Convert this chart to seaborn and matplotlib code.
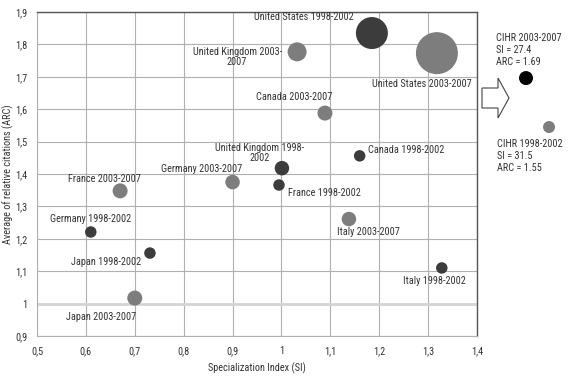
import numpy as np
import pandas as pd
import matplotlib
matplotlib.use("Agg")
import matplotlib.pyplot as plt
from matplotlib.patches import Polygon
from matplotlib.ticker import FuncFormatter, MultipleLocator
import seaborn as sns

# data
labels = ["United States 1998-2002", "United States 2003-2007", "United Kingdom 2003-\n2007",
          "Canada 2003-2007", "Canada 1998-2002", "United Kingdom 1998-\n2002",
          "France 1998-2002", "Germany 2003-2007", "France 2003-2007", "Germany 1998-2002",
          "Japan 1998-2002", "Japan 2003-2007", "Italy 2003-2007", "Italy 1998-2002"]
period = ["1998-2002", "2003-2007", "2003-2007", "2003-2007", "1998-2002", "1998-2002",
          "1998-2002", "2003-2007", "2003-2007", "1998-2002", "1998-2002", "2003-2007",
          "2003-2007", "1998-2002"]
si = [1.185, 1.318, 1.032, 1.089, 1.160, 1.001, 0.995, 0.900, 0.670, 0.610, 0.731, 0.700, 1.138, 1.328]
arc = [1.835, 1.773, 1.777, 1.588, 1.456, 1.418, 1.366, 1.375, 1.348, 1.221, 1.156, 1.017, 1.261, 1.110]
volume = [1024, 1764, 361, 225, 132, 210, 132, 210, 225, 132, 132, 225, 210, 132]

cihr_labels = ["CIHR 2003-2007\nSI = 27.4\nARC = 1.69", "CIHR 1998-2002\nSI = 31.5\nARC = 1.55"]
cihr_period = ["2003-2007", "1998-2002"]
cihr_si = [27.4, 31.5]
cihr_arc = [1.69, 1.55]
cihr_volume = [196, 144]

# label placement (pixel offsets from the bubble, alignment)
offsets = [(-18, 16, "right"), (35, -31, "right"), (-60, -5, "center"),
           (7, 16, "right"), (8, 6, "left"), (-22, 15, "center"),
           (9, -8, "left"), (-31, 13, "center"), (-16, 12, "center"), (0, 13, "center"),
           (-44, -9, "center"), (-34, -19, "center"), (19, -13, "center"), (-7, -13, "center")]

df = pd.DataFrame({"SI": si, "ARC": arc, "period": period, "volume": volume})
cihr = pd.DataFrame({"SI": cihr_si, "ARC": cihr_arc, "period": cihr_period, "volume": cihr_volume})

sns.set_style("white")
plt.rcParams["font.family"] = ["DejaVu Sans Condensed", "Liberation Sans Narrow",
                               "Roboto Condensed", "Lato", "DejaVu Sans"]
txt = "#333333"
fs = 7.4

fig = plt.figure(figsize=(5.7, 3.8), dpi=100)
ax = fig.add_axes([37 / 570, 1 - 336 / 380, 440 / 570, 324 / 380])

pal = {"1998-2002": "#3c3c3c", "2003-2007": "#7d7d7d"}
px2 = 0.72 ** 2
sns.scatterplot(data=df, x="SI", y="ARC", hue="period", size="volume", palette=pal,
                sizes=(0, 1764 * px2), size_norm=(0, 1764), linewidth=0, alpha=1,
                legend=False, ax=ax, zorder=3)

for lab, x, y, (dx, dy, ha) in zip(labels, si, arc, offsets):
    ax.annotate(lab, (x, y), xytext=(dx, dy), textcoords="offset pixels",
                ha=ha, va="center", fontsize=fs, color=txt, linespacing=1.05, zorder=4)

ax.set_xlim(0.5, 1.4)
ax.set_ylim(0.9, 1.9)
ax.xaxis.set_major_locator(MultipleLocator(0.1))
ax.yaxis.set_major_locator(MultipleLocator(0.1))
fmt = FuncFormatter(lambda v, p: f"{round(v, 2):g}".replace(".", ","))
ax.xaxis.set_major_formatter(fmt)
ax.yaxis.set_major_formatter(fmt)
ax.grid(True, color="#b0b0b0", linewidth=0.8)
ax.axhline(1.0, color="#d4d4d4", linewidth=2, zorder=1)
ax.tick_params(axis="both", length=3, color="#b0b0b0", labelsize=fs, labelcolor=txt, pad=4)
for side in ["left", "bottom"]:
    ax.spines[side].set_color("#b0b0b0")
    ax.spines[side].set_linewidth(0.8)
for side in ["top", "right"]:
    ax.spines[side].set_color("#555555")
    ax.spines[side].set_linewidth(1)
ax.set_xlabel("Specialization Index (SI)", fontsize=fs, color=txt, labelpad=5)
ax.set_ylabel("Average of relative citations (ARC)", fontsize=fs, color=txt)
ax.yaxis.set_label_coords(-0.052, 0.5)

# CIHR side panel
ax2 = fig.add_axes([485 / 570, 1 - 190 / 380, 85 / 570, 170 / 380])
sns.scatterplot(data=cihr, x="SI", y="ARC", hue="period",
                palette={"2003-2007": "#000000", "1998-2002": "#7d7d7d"},
                size="volume", sizes=(0, 1764 * px2), size_norm=(0, 1764),
                linewidth=0, legend=False, ax=ax2)
ax2.set_xlim(20.09, 35.24)
ax2.set_ylim(1.37, 1.856)
ax2.axis("off")
for lab, x, y, (dx, dy) in zip(cihr_labels, cihr_si, cihr_arc, [(-30, 28), (-52, -29)]):
    ax2.annotate(lab, (x, y), xytext=(dx, dy), textcoords="offset pixels",
                 ha="left", va="center", fontsize=fs, color=txt, linespacing=1.2)

# outline block arrow
W, H = 570, 380
pts = [(482, 88), (498, 88), (498, 78), (509, 98), (498, 118), (498, 108), (482, 108)]
fig.patches.append(Polygon([(x / W, 1 - y / H) for x, y in pts], closed=True,
                           facecolor="white", edgecolor="#444444", linewidth=0.8,
                           transform=fig.transFigure, figure=fig))

fig.savefig("out.png", dpi=100)
